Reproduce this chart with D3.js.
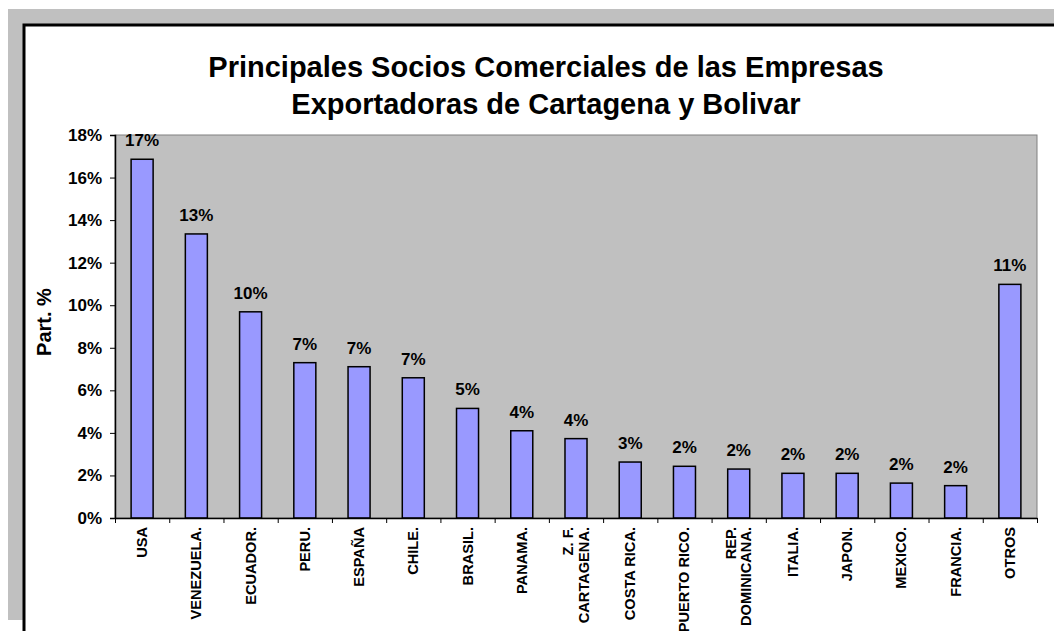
<!DOCTYPE html>
<html>
<head>
<meta charset="utf-8">
<script src="https://cdn.jsdelivr.net/npm/d3@7"></script>
<style>
    body { margin: 0; background: #fff; }
    svg { display: block; font-family: Arial, "Liberation Sans", sans-serif; font-weight: bold; }
</style>
</head>
<body>
<div class="chart_container"></div>
<script>
    // countries (multi-line labels split by |)
    var paises = ["USA", "VENEZUELA.", "ECUADOR.", "PERU.", "ESPAÑA", "CHILE.", "BRASIL.", "PANAMA.",
                  "Z. F.|CARTAGENA.", "COSTA RICA.", "PUERTO RICO.", "REP.|DOMINICANA.", "ITALIA.",
                  "JAPON.", "MEXICO.", "FRANCIA.", "OTROS"];
    // participation %
    var participacion = [16.86, 13.35, 9.69, 7.30, 7.11, 6.59, 5.15, 4.10, 3.73, 2.63, 2.43, 2.30, 2.10, 2.10, 1.64, 1.52, 10.98];
    var y_ticks = [0, 2, 4, 6, 8, 10, 12, 14, 16, 18];

    var w = 1054, h = 631;
    var plot = {left: 115, right: 1037, top: 135, bottom: 518};

    var svg = d3.select('.chart_container')
                .append('svg')
                .attr('width', w)
                .attr('height', h);

    //background frame
    svg.append('rect')
        .attr('x', 8).attr('y', 9)
        .attr('width', w).attr('height', 611)
        .style('fill', '#c0c0c0');
    svg.append('rect')
        .attr('x', 24).attr('y', 25)
        .attr('width', w).attr('height', h)
        .style('fill', '#fff')
        .style('stroke', '#000')
        .style('stroke-width', 3);

    //title
    var title = svg.append('text')
        .attr('text-anchor', 'middle')
        .style('font-size', '29px');
    title.append('tspan').attr('x', 546).attr('y', 77).text('Principales Socios Comerciales de las Empresas');
    title.append('tspan').attr('x', 546).attr('y', 114).text('Exportadoras de Cartagena y Bolivar');

    //scales
    var x = d3.scaleBand()
        .domain(paises)
        .range([plot.left, plot.right])
        .paddingInner(0.594)
        .paddingOuter(0.297);
    var x_lin = d3.scaleLinear()
        .domain([0, paises.length])
        .range([plot.left, plot.right]);
    var y = d3.scaleLinear()
        .domain([0, 18])
        .range([plot.bottom, plot.top]);

    //plot area
    svg.append('rect')
        .attr('x', plot.left).attr('y', plot.top)
        .attr('width', plot.right - plot.left)
        .attr('height', plot.bottom - plot.top)
        .style('fill', '#c0c0c0')
        .style('stroke', '#808080')
        .style('stroke-width', 1);

    //bars
    var data = paises.map((p, i) => ({pais: p, valor: participacion[i]}));
    var bars = svg.selectAll('.bar')
        .data(data)
        .enter()
        .append('g')
        .attr('class', 'bar');
    bars.append('rect')
        .attr('x', d => x(d.pais))
        .attr('y', d => y(d.valor))
        .attr('width', x.bandwidth())
        .attr('height', d => y(0) - y(d.valor))
        .style('fill', '#9999ff')
        .style('stroke', '#000')
        .style('stroke-width', 1.5);
    bars.append('text')
        .attr('x', d => x(d.pais) + x.bandwidth() / 2)
        .attr('y', d => y(d.valor) - 13)
        .attr('text-anchor', 'middle')
        .style('font-size', '17px')
        .text(d => Math.round(d.valor) + '%');

    //y axis
    var y_axis = d3.axisLeft(y)
        .tickValues(y_ticks)
        .tickFormat(d => d + '%')
        .tickSize(5)
        .tickPadding(8);
    var ya = svg.append('g')
        .attr('transform', 'translate(' + plot.left + ',0)')
        .call(y_axis);
    ya.select('.domain').style('stroke', '#000').style('stroke-width', 1.5);
    ya.selectAll('.tick line').style('stroke', '#000');
    ya.selectAll('text')
        .style('font-family', 'Arial, "Liberation Sans", sans-serif')
        .style('font-weight', 'bold')
        .style('font-size', '17px')
        .style('fill', '#000');

    //x axis (ticks at category boundaries)
    var x_axis = d3.axisBottom(x_lin)
        .tickValues(d3.range(paises.length + 1))
        .tickFormat('')
        .tickSize(5)
        .tickSizeOuter(0);
    var xa = svg.append('g')
        .attr('transform', 'translate(0,' + plot.bottom + ')')
        .call(x_axis);
    xa.select('.domain').style('stroke', '#000').style('stroke-width', 1.5);
    xa.selectAll('.tick line').style('stroke', '#000');

    //category labels, rotated
    var labels = svg.selectAll('.xlabel')
        .data(paises)
        .enter()
        .append('text')
        .attr('class', 'xlabel')
        .attr('text-anchor', 'end')
        .style('font-size', '14.6px')
        .attr('transform', d => 'translate(' + (x(d) + x.bandwidth() / 2) + ',527) rotate(-90)');
    labels.each(function(d){
        var lines = d.split('|');
        var sel = d3.select(this);
        lines.forEach(function(l, i){
            sel.append('tspan')
                .attr('x', 0)
                .attr('y', 5 + (i - (lines.length - 1) / 2) * 15.5)
                .text(l);
        });
    });

    //y label
    svg.append('text')
        .attr('transform', 'translate(51,322) rotate(-90)')
        .attr('text-anchor', 'middle')
        .style('font-size', '20px')
        .text('Part. %');
</script>
</body>
</html>
